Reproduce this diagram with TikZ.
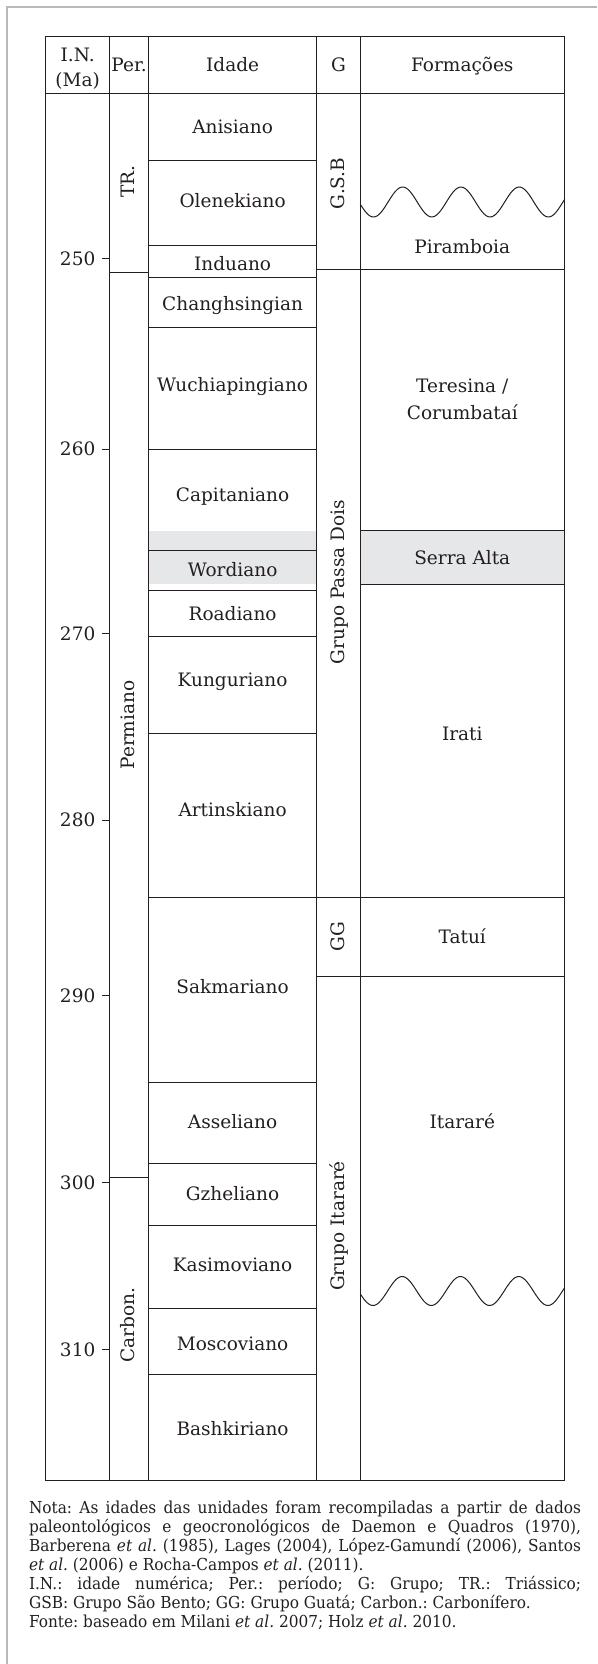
\documentclass[tikz,border=0pt]{standalone}
\usepackage{fontspec}
\setmainfont{DejaVu Serif}[FakeStretch=0.93]
\newfontfamily\tabfont{DejaVu Serif}
\definecolor{ink}{RGB}{35,31,32}
\definecolor{band}{RGB}{230,231,232}
\definecolor{framegray}{RGB}{185,185,185}
\tikzset{
  rule/.style={ink, line width=1pt},
  txt/.style={inner sep=0pt, text=ink, font=\tabfont\fontsize{18.5}{24}\selectfont, text height=13.5pt, text depth=0pt},
  vtxt/.style={txt, rotate=90},
}
\begin{document}
\begin{tikzpicture}[x=1pt,y=-1pt]
\useasboundingbox (0,0) rectangle (597,1664);
\draw[framegray, line width=1.8pt] (7,1664) -- (7,7.3) -- (597,7.3); % page frame
\fill[band] (148.5,530.7) rectangle (316.8,584); % serra alta
\fill[band] (360.2,530.7) rectangle (564.4,584);
\draw[rule] (45.7,36.7) rectangle (564.4,1480); % table
\draw[rule] (45.7,93.3) -- (564.4,93.3); % header
\foreach \x in {109.7,148.5,316.8,360.2} \draw[rule] (\x,36.7) -- (\x,1480);
\foreach \y in {272.7,1177.3} \draw[rule] (109.7,\y) -- (148.5,\y); % periods
\foreach \y in {161,245,277.3,327.3,449,550,590,636,733,1082.7,1163.3,1225.3,1308,1374.7}
  \draw[rule] (148.5,\y) -- (316.8,\y); % stages
\draw[rule] (316.8,269.3) -- (564.4,269.3);
\draw[rule] (148.5,897.7) -- (564.4,897.7);
\draw[rule] (316.8,976.7) -- (564.4,976.7);
\foreach \y in {530.7,584} \draw[rule] (360.2,\y) -- (564.4,\y);
% unconformities
\draw[rule] plot[domain=360.2:564.4, samples=100, smooth] (\x,{202+15*cos(6.175*(\x-373.5))});
\draw[rule] plot[domain=360.2:564.4, samples=100, smooth] (\x,{1291+14.5*cos(6.175*(\x-373))});
% age scale
\foreach \y/\t in {258.3/250,449/260,633.3/270,820/280,995.7/290,1182.3/300,1349.3/310}{
  \draw[rule] (102,\y) -- (109.7,\y);
  \node[txt, anchor=east] (ma\t) at (95.5,\y) {\t};
}
% header
\node[txt] (hin) at (77.7,55) {I.N.};
\node[txt] (hma) at (77.7,80) {(Ma)};
\node[txt] (hper) at (129.1,65) {Per.};
\node[txt] (hidade) at (232.6,65) {Idade};
\node[txt] (hg) at (338.5,65) {G};
\node[txt] (hform) at (462.3,65) {Formações};
% stages
\foreach \n/\y/\s in {anis/126.7/Anisiano, olen/201/Olenekiano, indu/263.3/Induano,
  chan/304/Changhsingian, wuch/384.3/Wuchiapingiano, capi/495/Capitaniano,
  word/569.3/Wordiano, road/613.3/Roadiano, kung/680/Kunguriano, arti/809.3/Artinskiano,
  sakm/986.7/Sakmariano, asse/1121.7/Asseliano, gzhe/1194/Gzheliano,
  kasi/1265/Kasimoviano, mosc/1343.3/Moscoviano, bash/1428.3/Bashkiriano}
  \node[txt] (\n) at (232.6,\y) {\s};
% periods and groups
\node[vtxt] (tr) at (128,181.7) {TR.};
\node[vtxt] (perm) at (128,725) {Permiano};
\node[vtxt] (carb) at (128,1325) {Carbon.};
\node[vtxt] (gsb) at (337.5,183.3) {G.S.B};
\node[vtxt] (gpd) at (337.5,582) {Grupo Passa Dois};
\node[vtxt] (gg) at (337.5,936.7) {GG};
\node[vtxt] (gita) at (337.5,1226) {Grupo Itararé};
% formations
\node[txt] (piram) at (462.3,246.7) {Piramboia};
\node[txt] (teres) at (462.3,386) {Teresina /};
\node[txt] (corum) at (462.3,412.3) {Corumbataí};
\node[txt] (serra) at (462.3,558) {Serra Alta};
\node[txt] (irati) at (462.3,734) {Irati};
\node[txt] (tatui) at (462.3,936.7) {Tatuí};
\node[txt] (itara) at (462.3,1121.7) {Itararé};
% notes
\node[anchor=north west, inner sep=0pt, text=ink, font=\fontsize{16.5}{19.1}\selectfont]
  (nota) at (28.8,1500.5) {\parbox[t]{552pt}{\frenchspacing
  \makebox[552pt][s]{Nota: As idades das unidades foram recompiladas a partir de dados}\\
  \makebox[552pt][s]{paleontológicos e geocronológicos de Daemon e Quadros (1970),}\\
  \makebox[552pt][s]{Barberena \textit{et al.} (1985), Lages (2004), López-Gamundí (2006), Santos}\\
  \textit{et al.} (2006) e Rocha-Campos \textit{et al.} (2011).\\
  \makebox[552pt][s]{I.N.: idade numérica; Per.: período; G: Grupo; TR.: Triássico;}\\
  GSB: Grupo São Bento; GG: Grupo Guatá; Carbon.: Carbonífero.\\
  Fonte: baseado em Milani \textit{et al.} 2007; Holz \textit{et al.} 2010.}};
\end{tikzpicture}
\end{document}
